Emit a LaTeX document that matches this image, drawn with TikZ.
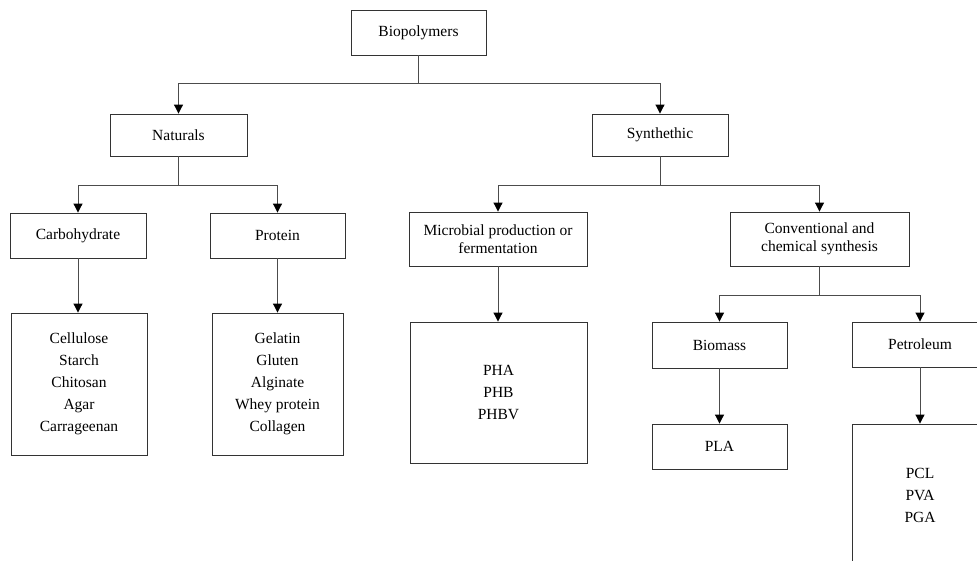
\documentclass[tikz,border=0pt]{standalone}
\usepackage{fontspec}
\setmainfont{Liberation Serif}
\usetikzlibrary{arrows.meta}
\begin{document}
\begin{tikzpicture}[x=1pt,y=-1pt,
  box/.style={draw=black!80,line width=0.9pt,fill=white,align=center,inner sep=0pt,
    font=\fontsize{15.5}{18}\selectfont},
  conn/.style={draw=black!70,line width=1pt},
  arr/.style={conn,-{Triangle[width=9pt,length=9pt,color=black]}}]
\useasboundingbox (0,0) rectangle (977,560);
\clip (0,0) rectangle (977,560);
\fill[white] (0,0) rectangle (977,560);
% nodes
\node[box,minimum width=135,minimum height=45] (bio) at (418.5,32.5) {Biopolymers};
\node[box,minimum width=137,minimum height=42] (nat) at (178.5,135) {Naturals};
\node[box,minimum width=136,minimum height=42] (syn) at (660,135) {Synthethic};
\node[box,minimum width=136,minimum height=45] (carb) at (78,235.5) {Carbohydrate};
\node[box,minimum width=135,minimum height=45] (prot) at (277.5,235.5) {Protein};
\node[box,minimum width=178,minimum height=54] (mic) at (498,239) {Microbial production or\\fermentation};
\node[box,minimum width=179,minimum height=54] (conv) at (819.5,239) {Conventional and\\chemical synthesis};
\node[box,minimum width=136,minimum height=142] (carbl) at (79,384) {Cellulose\\[4pt]Starch\\[4pt]Chitosan\\[4pt]Agar\\[4pt]Carrageenan};
\node[box,minimum width=131,minimum height=142] (protl) at (277.5,384) {Gelatin\\[4pt]Gluten\\[4pt]Alginate\\[4pt]Whey protein\\[4pt]Collagen};
\node[box,minimum width=177,minimum height=141] (micl) at (498.5,392.5) {PHA\\[4pt]PHB\\[4pt]PHBV};
\node[box,minimum width=135,minimum height=46] (biom) at (719.5,345) {Biomass};
\node[box,minimum width=136,minimum height=45] (petr) at (920,344.5) {Petroleum};
\node[box,minimum width=135,minimum height=45] (pla) at (719.5,446.5) {PLA};
\node[box,minimum width=136,minimum height=142] (petl) at (920,495) {PCL\\[4pt]PVA\\[4pt]PGA};
% junctions
\coordinate (j1) at (418.5,83);
\coordinate (j2) at (178.5,185);
\coordinate (j3) at (660,185);
\coordinate (j4) at (819.5,295);
% connectors
\draw[conn] (bio.south) -- (j1);
\draw[arr] (j1) -| (nat.north);
\draw[arr] (j1) -| (syn.north);
\draw[conn] (nat.south) -- (j2);
\draw[arr] (j2) -| (carb.north);
\draw[arr] (j2) -| (prot.north);
\draw[conn] (syn.south) -- (j3);
\draw[arr] (j3) -| (mic.north);
\draw[arr] (j3) -| (conv.north);
\draw[conn] (conv.south) -- (j4);
\draw[arr] (j4) -| (biom.north);
\draw[arr] (j4) -| (petr.north);
\draw[arr] (carb.south) -- (carb.south |- carbl.north);
\draw[arr] (prot.south) -- (prot.south |- protl.north);
\draw[arr] (mic.south) -- (mic.south |- micl.north);
\draw[arr] (biom.south) -- (biom.south |- pla.north);
\draw[arr] (petr.south) -- (petr.south |- petl.north);
\end{tikzpicture}
\end{document}
